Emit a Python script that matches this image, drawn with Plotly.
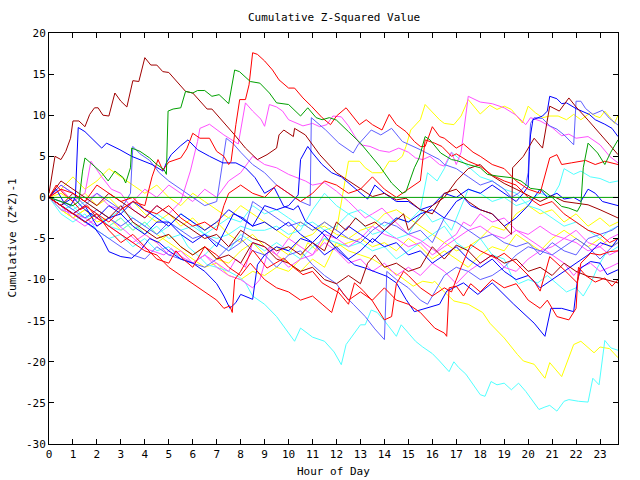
import plotly.graph_objects as go

# ---- tick labels ----
hours = list(range(24))
hour_labels = [str(h) for h in hours]
y_ticks = list(range(-30, 25, 5))

# ---- series: (hour, cumulative value) pairs ----
A = [(0,0.5),(0.25,5.0),(0.5,4.6),(0.7,5.6),(0.9,7.2),(1.0,9.3),(1.25,9.3),(1.5,8.6),(1.7,10.1),(1.9,10.9),(2.05,10.9),(2.25,10.0),(2.5,9.9),(2.75,12.7),(3.0,11.7),(3.25,11.0),(3.5,14.2),(3.75,14.1),(4.0,17.0),(4.25,16.1),(4.5,16.1),(4.75,15.3),(5.0,15.2),(5.4,13.9),(5.7,12.9),(6.0,12.7),(6.6,10.75),(6.8,10.75),(7.4,8.8),(7.75,7.6),(8.2,6.0),(8.7,4.6),(9.1,5.2),(9.5,6.0),(9.6,7.6),(9.8,8.2),(10.2,7.4),(10.25,8.4),(10.7,7.6),(10.95,6.6),(11.3,5.2),(12.0,3.0),(12.5,2.0),(13.0,1.0),(13.5,0.1),(14.0,0.5),(14.5,-0.3),(14.9,-0.1),(15.5,-1.5),(16.0,-2.0),(16.5,0.5),(17.0,1.0),(17.5,-0.5),(18.0,-1.5),(18.5,-2.0),(19.0,-3.5),(19.3,-4.5),(19.35,3.6),(19.8,5.0),(20.25,7.2),(20.6,6.0),(20.9,11.1),(21.3,10.5),(21.7,12.1),(22.0,11.0),(22.5,9.4),(23.0,7.8),(23.4,6.4),(23.75,5.2)]
B = [(0,0),(0.5,-1.0),(1.0,-2.0),(1.5,-1.0),(2.0,-2.0),(2.5,-3.0),(3.0,-1.5),(3.5,-0.5),(4.0,-1.0),(4.3,2.5),(4.55,4.6),(4.75,3.3),(5.0,4.3),(5.5,4.8),(5.75,5.9),(6.0,7.8),(6.3,7.2),(6.7,7.2),(7.0,5.6),(7.3,5.0),(7.5,4.0),(7.6,4.4),(7.8,8.85),(7.96,11.9),(8.2,11.9),(8.35,13.7),(8.5,17.6),(8.7,17.4),(9.0,16.6),(9.33,15.5),(9.6,14.3),(10.0,13.3),(10.25,13.3),(10.6,12.1),(10.95,11.1),(11.4,9.7),(11.75,8.85),(12.0,9.9),(12.4,10.9),(12.75,9.7),(12.96,8.85),(13.24,9.45),(13.5,8.85),(13.9,8.2),(14.2,10.1),(14.5,8.85),(14.9,8.0),(15.25,6.8),(15.5,6.2),(15.7,6.2),(16.0,8.6),(16.3,7.4),(16.5,7.2),(17.0,6.0),(17.3,6.5),(17.7,5.5),(18.0,5.0),(18.5,4.0),(19.0,3.5),(19.5,2.0),(20.0,1.0),(20.5,0.5),(20.9,4.8),(21.2,5.2),(21.4,4.0),(21.8,4.2),(22.4,4.5),(22.8,4.0),(23.2,4.4),(23.75,4.0)]
C = [(0,0),(0.5,-0.5),(1.0,-1.0),(1.25,-0.5),(1.4,3.2),(1.5,4.8),(1.9,3.8),(2.2,3.0),(2.47,2.0),(2.75,3.2),(3.1,2.4),(3.2,1.75),(3.4,3.6),(3.45,6.0),(3.8,5.6),(4.2,4.8),(4.5,4.0),(4.8,3.4),(4.9,2.8),(4.97,10.5),(5.18,10.75),(5.5,10.9),(5.7,12.9),(6.0,12.7),(6.2,13.0),(6.5,13.0),(6.8,12.3),(7.1,12.5),(7.5,11.4),(7.75,15.5),(7.95,15.3),(8.4,14.1),(8.8,13.9),(9.2,12.7),(9.5,11.5),(10.0,11.3),(10.5,9.9),(10.8,10.9),(11.15,9.7),(11.4,9.45),(11.7,9.7),(12.0,9.4),(12.5,8.0),(13.0,6.6),(13.4,5.2),(13.8,3.8),(14.3,1.75),(14.75,0.5),(14.9,0.7),(15.25,3.6),(15.45,4.8),(15.7,7.4),(15.9,7.0),(16.35,5.4),(16.8,4.6),(17.0,4.5),(17.5,4.0),(18.0,3.6),(18.3,2.8),(18.7,2.6),(19.3,2.4),(19.7,2.0),(20.1,1.1),(20.6,0.9),(21.0,0.0),(21.4,-1.1),(21.7,-1.3),(22.05,-1.7),(22.2,-0.9),(22.3,3.6),(22.5,6.6),(22.9,5.4),(23.2,4.0),(23.45,5.5),(23.75,7.0)]
D = [(0,0),(0.3,1.0),(0.6,-0.5),(0.9,-1.0),(1.1,0.0),(1.22,8.5),(1.5,8.0),(1.98,6.6),(2.2,6.0),(2.4,6.6),(2.96,5.8),(3.45,5.0),(4.0,4.4),(4.3,4.0),(4.76,3.2),(4.9,4.2),(5.1,5.2),(5.5,6.3),(5.8,7.0),(6.2,5.8),(6.7,5.0),(7.26,4.2),(7.8,4.2),(8.2,3.6),(8.6,2.4),(9.0,0.5),(9.4,1.2),(9.8,-1.1),(10.2,-1.5),(10.4,-1.0),(10.7,-2.9),(11.4,-4.3),(12.1,-6.6),(12.75,-8.2),(13.2,-8.6),(14.1,-9.6),(14.5,-10.4),(14.9,-12.4),(15.25,-13.9),(15.7,-13.5),(16.3,-13.0),(16.6,-11.4),(17.3,-10.4),(17.9,-11.8),(18.5,-10.4),(19.4,-13.0),(20.25,-15.3),(20.7,-16.9),(20.95,-13.5),(21.4,-13.5),(21.9,-13.9),(22.05,-10.2),(22.2,-8.6),(22.6,-7.8),(23.0,-8.0),(23.3,-9.4),(23.75,-8.8)]
E = [(0,0),(0.5,-1.0),(1.0,-2.0),(1.5,-1.0),(2.0,-3.5),(2.5,-2.5),(3.0,-2.0),(3.5,-3.5),(4.0,-4.5),(4.5,-3.0),(5.0,-3.0),(5.5,-4.5),(6.0,-5.5),(6.5,-4.5),(7.0,-6.0),(7.7,-2.0),(8.1,-2.5),(8.5,-3.5),(9.0,-1.0),(9.5,-1.5),(10.0,-1.0),(10.4,0.3),(10.5,4.6),(10.8,6.2),(11.0,5.4),(11.4,4.0),(11.8,3.0),(12.2,2.5),(12.6,1.5),(13.0,0.5),(13.3,-0.2),(13.6,1.5),(14.0,0.5),(14.5,-0.5),(15.0,-0.5),(15.5,-1.5),(16.0,-1.0),(16.5,0.5),(17.0,0.0),(17.5,1.0),(18.0,0.5),(18.5,1.5),(19.0,0.5),(19.5,-0.5),(19.8,0.5),(20.0,1.35),(20.05,5.6),(20.1,7.6),(20.2,9.45),(20.6,9.9),(20.8,10.5),(20.9,12.3),(21.2,12.0),(21.4,11.4),(21.6,11.5),(22.0,10.8),(22.55,10.1),(22.8,9.45),(23.2,8.9),(23.5,8.4),(23.75,7.4)]
M1 = [(0,0),(0.5,1.0),(1.0,-0.5),(1.5,0.5),(1.75,4.4),(2.2,2.5),(2.6,1.0),(3.0,0.5),(3.5,-1.5),(4.0,-2.5),(4.5,-1.0),(5.0,-2.0),(5.5,-0.5),(5.9,3.2),(6.2,6.8),(6.3,8.4),(6.7,8.9),(7.3,7.6),(7.9,6.5),(8.05,8.8),(8.2,11.5),(8.5,10.5),(8.85,9.5),(9.0,8.65),(9.2,11.3),(9.5,11.0),(9.75,10.5),(10.0,9.45),(10.4,8.9),(10.6,8.7),(11.0,9.0),(11.3,8.6),(11.6,8.85),(11.85,9.9),(12.2,9.8),(12.5,8.7),(12.75,7.5),(13.0,6.4),(13.4,6.2),(13.8,5.7),(14.2,5.5),(14.6,6.0),(15.0,5.5),(15.3,4.8),(15.6,4.6),(15.9,5.0),(16.3,4.0),(16.5,3.8),(16.8,5.5),(17.0,4.0),(17.2,5.5),(17.5,12.3),(18.0,11.6),(18.5,11.4),(19.0,10.9),(19.5,10.0),(19.9,8.85),(20.1,9.7),(20.5,9.3),(21.0,8.5),(21.4,7.5),(21.7,7.7),(22.0,7.2),(22.5,7.4),(23.0,6.4),(23.4,5.0),(23.75,4.2)]
Y1 = [(0,0),(0.5,-1.5),(1.0,-2.5),(1.5,-1.5),(2.0,-3.0),(2.5,-2.5),(3.0,-4.0),(3.5,-3.0),(4.0,-4.5),(4.5,-5.5),(5.0,-4.5),(5.5,-6.0),(6.0,-7.0),(6.5,-6.0),(7.0,-7.5),(7.5,-8.0),(8.0,-6.5),(8.5,-5.5),(9.0,-7.0),(9.5,-6.0),(10.0,-7.0),(10.5,-5.0),(11.0,-4.5),(11.5,-3.0),(12.0,-4.0),(12.3,1.0),(12.4,3.0),(12.5,4.4),(12.96,4.4),(13.2,3.6),(13.5,3.0),(13.9,3.0),(14.2,4.4),(14.5,4.4),(14.75,5.0),(14.9,6.2),(15.1,8.2),(15.25,8.65),(15.5,9.45),(15.7,11.3),(15.9,10.7),(16.3,9.45),(16.5,9.0),(16.9,8.85),(17.2,9.9),(17.5,11.9),(18.0,10.15),(18.4,11.2),(18.7,10.7),(19.0,11.1),(19.3,10.7),(19.76,9.05),(20.0,11.1),(20.3,10.3),(20.6,9.7),(20.9,9.9),(21.25,9.9),(21.6,9.45),(21.9,10.1),(22.2,9.45),(22.6,10.3),(22.8,9.9),(23.0,9.7),(23.2,10.5),(23.5,9.45),(23.6,9.0),(23.75,10.0)]
Y2 = [(0,0),(0.5,-1.5),(1.0,-2.5),(1.5,-1.5),(2.0,-2.5),(2.5,-3.5),(3.0,-2.5),(3.5,-4.0),(4.0,-3.0),(4.5,-4.5),(5.0,-5.5),(5.5,-6.5),(6.0,-7.5),(6.5,-8.5),(7.0,-8.0),(7.5,-9.5),(8.0,-10.0),(8.5,-9.0),(9.0,-9.5),(9.5,-8.5),(10.0,-9.0),(10.5,-7.5),(10.8,-5.5),(11.2,-6.5),(11.5,-5.0),(12.0,-6.0),(12.5,-5.5),(13.0,-5.0),(13.5,-6.0),(14.0,-5.5),(14.5,-6.5),(15.0,-5.0),(15.5,-6.0),(16.0,-7.5),(16.5,-6.5),(17.0,-7.5),(17.5,-8.5),(18.0,-7.0),(18.5,-6.0),(19.0,-6.5),(19.5,-4.5),(20.0,-5.5),(20.5,-6.5),(21.0,-5.0),(21.5,-4.0),(22.0,-5.0),(22.5,-6.0),(23.0,-5.0),(23.4,-6.0),(23.75,-5.5)]
Y3 = [(0,0),(0.5,0.5),(1.0,-0.5),(1.5,0.5),(2.0,-1.0),(2.5,0.0),(3.0,-1.5),(3.5,-0.5),(4.0,-2.0),(4.5,-3.0),(5.0,-2.0),(5.5,-3.5),(6.0,-2.5),(6.5,-4.0),(7.0,-3.0),(7.5,-4.5),(8.0,-5.5),(8.5,-4.5),(9.0,-6.0),(9.5,-7.0),(10.0,-8.0),(10.5,-9.0),(11.0,-7.5),(11.5,-8.5),(12.0,-5.5),(12.5,-6.5),(13.0,-7.0),(13.5,-7.5),(14.1,-8.6),(14.6,-9.5),(15.2,-10.8),(15.6,-10.2),(16.0,-10.4),(16.1,-10.2),(16.5,-11.5),(16.9,-12.6),(17.5,-13.0),(18.1,-14.0),(18.4,-15.3),(19.0,-17.1),(19.55,-19.1),(19.8,-19.9),(20.25,-20.3),(20.7,-22.0),(20.9,-20.1),(21.4,-21.8),(21.9,-17.9),(22.2,-17.5),(22.75,-18.9),(23.0,-18.2),(23.4,-18.4),(23.75,-19.5)]
Y4 = [(0,0),(0.5,1.0),(1.0,2.5),(1.5,1.0),(2.0,2.0),(2.5,3.5),(3.0,2.5),(3.5,1.5),(4.0,0.5),(4.5,1.5),(5.0,0.0),(5.5,-1.0),(6.0,0.5),(6.5,-0.5),(7.0,-1.5),(7.5,-2.5),(8.0,-1.0),(8.5,-2.0),(9.0,-3.0),(9.5,-4.0),(10.0,-5.0),(10.5,-3.0),(11.0,-4.0),(11.5,-3.5),(12.0,-4.5),(12.5,-5.0),(13.0,-4.0),(13.5,-3.5),(14.0,-2.0),(14.5,-1.5),(15.0,-2.5),(15.5,-3.5),(16.0,-4.5),(16.5,-5.5),(17.0,-6.5),(17.5,-6.0),(18.0,-5.0),(18.5,-3.5),(19.0,-4.0),(19.5,-2.0),(20.0,-1.0),(20.5,-2.0),(21.0,-1.5),(21.5,-3.0),(22.0,-2.0),(22.5,-3.5),(23.0,-2.5),(23.4,-3.5),(23.75,-3.0)]
C1 = [(0,0),(0.5,-1.5),(1.0,-2.0),(1.5,-3.0),(2.0,-2.0),(2.5,-3.5),(3.0,-4.0),(3.5,-3.0),(4.0,-4.5),(4.5,-3.5),(5.0,-5.0),(5.5,-4.5),(5.8,-6.0),(6.2,-7.0),(6.6,-8.2),(7.0,-8.5),(7.5,-9.0),(8.0,-9.8),(8.2,-10.4),(8.5,-12.0),(9.0,-13.0),(9.35,-14.1),(9.5,-14.5),(10.25,-17.5),(10.5,-15.9),(11.0,-17.0),(11.5,-17.5),(11.9,-18.8),(12.2,-20.35),(12.4,-17.9),(12.75,-16.5),(13.0,-15.5),(13.2,-15.5),(13.35,-14.5),(13.45,-13.7),(13.7,-14.0),(14.0,-15.0),(14.5,-16.9),(14.7,-15.5),(15.0,-16.5),(15.3,-17.5),(15.6,-18.2),(16.0,-19.0),(16.3,-19.9),(16.7,-21.2),(16.9,-20.0),(17.1,-20.7),(17.4,-21.5),(17.7,-22.8),(18.0,-24.0),(18.2,-24.2),(18.45,-22.4),(18.7,-22.8),(19.0,-22.6),(19.3,-23.4),(19.6,-22.6),(19.9,-23.6),(20.2,-24.8),(20.45,-25.8),(20.7,-25.5),(20.9,-25.3),(21.2,-26.0),(21.5,-24.8),(21.7,-24.6),(22.1,-24.8),(22.5,-24.9),(22.7,-22.0),(22.96,-22.8),(23.2,-17.4),(23.45,-18.3),(23.75,-18.6)]
CY2 = [(0,0),(0.5,-1.5),(1.0,-1.0),(1.5,-2.5),(2.0,-2.0),(2.5,-3.5),(3.0,-2.5),(3.5,-4.0),(4.0,-3.0),(4.5,-4.5),(5.0,-3.5),(5.5,-2.0),(6.0,-3.0),(6.5,-4.5),(7.0,-3.5),(7.5,-2.5),(8.0,-3.0),(8.5,-1.0),(9.0,-2.0),(9.5,-1.5),(10.0,-2.5),(10.5,-3.5),(11.0,-3.0),(11.5,-4.0),(12.0,-3.5),(12.5,-2.0),(13.0,-3.0),(13.5,-4.5),(14.0,-4.0),(14.5,-5.0),(15.0,-4.5),(15.3,-3.0),(15.6,-1.5),(16.0,-3.0),(16.4,-2.5),(16.8,-4.0),(17.2,-1.0),(17.5,1.0),(18.0,0.5),(18.5,-0.5),(19.0,0.0),(19.5,-1.0),(20.0,-0.5),(20.5,0.5),(21.0,0.0),(21.3,1.5),(21.5,3.5),(21.9,2.8),(22.2,3.2),(22.6,2.5),(23.0,2.3),(23.4,1.8),(23.75,2.0)]
CY3 = [(0,0),(0.5,-2.0),(1.0,-3.0),(1.5,-2.0),(2.0,-4.0),(2.5,-5.0),(3.0,-4.5),(3.5,-6.0),(4.0,-5.0),(4.5,-6.5),(5.0,-6.0),(5.5,-7.5),(6.0,-8.0),(6.5,-7.0),(7.0,-5.5),(7.5,-6.5),(8.0,-4.5),(8.5,-5.5),(9.0,-6.5),(9.5,-5.5),(10.0,-6.5),(10.5,-7.5),(11.0,-6.0),(11.5,-5.0),(12.0,-5.5),(12.5,-6.0),(13.0,-5.5),(13.5,-6.5),(14.0,-6.0),(14.5,-7.5),(15.0,-6.5),(15.5,-5.5),(16.0,-4.5),(16.5,-3.5),(17.0,-5.5),(17.5,-6.5),(18.0,-5.0),(18.5,-7.0),(19.0,-7.5),(19.3,-9.5),(19.6,-10.5),(20.0,-10.0),(20.4,-10.4),(20.8,-9.5),(21.2,-10.5),(21.6,-11.5),(22.0,-11.0),(22.3,-12.0),(22.6,-10.5),(22.9,-8.5),(23.2,-7.0),(23.5,-6.5),(23.75,-6.0)]
CY4 = [(0,0),(0.5,-0.5),(1.0,-1.5),(1.5,-0.5),(2.0,-1.5),(2.5,-2.5),(3.0,-1.5),(3.5,-2.5),(4.0,-3.5),(4.5,-2.0),(5.0,-3.0),(5.5,-4.0),(6.0,-3.5),(6.5,-4.5),(7.0,-5.0),(7.5,-4.5),(8.0,-3.5),(8.5,-4.0),(9.0,-4.0),(9.5,-3.5),(10.0,-4.5),(10.5,-4.0),(11.0,-1.5),(11.5,0.5),(12.0,-1.0),(12.5,-2.0),(13.0,-1.5),(13.5,-2.5),(14.0,-3.5),(14.5,-2.5),(15.0,-3.0),(15.5,-1.5),(15.8,3.0),(16.2,2.0),(16.5,3.5),(16.8,5.5),(17.2,4.5),(17.6,3.5),(18.0,2.5),(18.5,2.0),(19.0,1.0),(19.5,0.5),(20.0,-1.0),(20.5,-1.5),(21.0,-2.5),(21.5,-3.5),(22.0,-3.0),(22.5,-4.0),(23.0,-5.0),(23.4,-4.0),(23.75,-3.5)]
R2 = [(0,0),(0.3,1.5),(0.6,0.5),(1.0,-0.5),(1.3,-1.5),(1.6,-1.0),(2.0,-2.5),(2.5,-3.5),(3.0,-4.5),(3.5,-5.5),(4.0,-6.5),(4.5,-7.0),(5.0,-8.5),(5.5,-9.5),(6.0,-10.5),(6.5,-11.5),(7.0,-12.5),(7.3,-13.5),(7.55,-13.2),(7.65,-14.0),(7.75,-10.0),(8.0,-9.0),(8.5,-6.4),(9.1,-8.6),(9.8,-7.4),(10.2,-8.5),(10.6,-9.4),(11.0,-9.0),(11.4,-10.4),(12.1,-11.6),(12.5,-13.0),(12.75,-10.4),(13.1,-11.3),(13.5,-12.6),(13.8,-13.9),(14.0,-14.9),(14.3,-14.5),(14.35,-13.5),(14.5,-10.5),(14.8,-9.0),(15.0,-9.5),(15.5,-11.0),(16.0,-12.0),(16.5,-11.0),(16.8,-11.5),(17.2,-8.5),(17.6,-5.75),(18.0,-6.5),(18.65,-7.4),(19.0,-6.8),(19.5,-8.0),(20.25,-10.2),(20.5,-11.4),(20.9,-7.2),(21.5,-8.8),(22.05,-10.4),(22.2,-8.0),(22.6,-6.8),(23.0,-7.0),(23.4,-6.6),(23.75,-6.5)]
R3 = [(0,0),(0.5,-1.0),(1.0,-2.0),(1.5,-3.0),(2.0,-2.0),(2.5,-4.0),(3.0,-5.5),(3.5,-4.5),(4.0,-6.0),(4.5,-7.5),(5.0,-8.0),(5.3,-6.5),(5.6,-7.5),(6.0,-8.5),(6.5,-6.0),(7.0,-7.0),(7.5,-8.5),(8.0,-9.5),(8.4,-8.0),(9.0,-10.0),(9.5,-11.0),(10.0,-11.5),(10.5,-12.5),(11.0,-12.0),(11.4,-13.0),(11.8,-14.0),(12.1,-11.0),(12.5,-12.5),(13.0,-11.5),(13.5,-12.5),(14.0,-11.0),(14.5,-12.5),(15.0,-13.0),(15.5,-14.0),(16.1,-15.9),(16.5,-16.5),(16.6,-16.9),(16.7,-11.0),(17.0,-10.8),(17.3,-12.0),(17.6,-10.5),(18.0,-11.5),(18.5,-10.0),(19.0,-11.0),(19.5,-10.5),(20.0,-12.5),(20.5,-13.5),(20.8,-12.5),(21.0,-13.5),(21.2,-14.5),(21.7,-14.9),(22.0,-13.5),(22.1,-8.5),(22.4,-9.5),(22.8,-10.3),(23.2,-9.8),(23.5,-10.8),(23.75,-10.0)]
R4 = [(0,0),(0.5,1.0),(1.0,0.5),(1.5,-0.5),(2.0,1.5),(2.5,0.5),(3.0,-0.5),(3.5,0.0),(4.0,-1.5),(4.5,-2.0),(5.0,-1.0),(5.5,-2.5),(6.0,-3.5),(6.5,-3.0),(7.0,-4.0),(7.3,-1.0),(7.5,0.5),(8.0,1.5),(8.5,0.5),(9.0,0.0),(9.5,1.5),(10.0,0.5),(10.5,-0.5),(11.0,0.5),(11.5,2.0),(12.0,1.5),(12.5,0.5),(13.0,1.0),(13.5,2.5),(14.0,1.0),(14.5,0.0),(15.0,1.0),(15.5,2.0),(15.7,7.0),(16.1,6.6),(16.4,6.2),(16.8,5.0),(17.0,5.3),(17.5,4.4),(18.0,3.8),(18.5,2.7),(19.0,2.0),(19.5,1.5),(20.0,0.0),(20.5,-1.0),(21.0,-0.5),(21.5,-2.0),(22.0,-3.0),(22.5,-4.0),(23.0,-4.5),(23.4,-5.5),(23.75,-5.0)]
DR2 = [(0,0),(0.5,-1.0),(1.0,0.5),(1.5,-0.5),(2.0,-1.5),(2.5,-2.5),(3.0,-1.0),(3.5,-3.0),(4.0,-4.0),(4.5,-5.0),(5.0,-4.5),(5.5,-6.0),(6.0,-7.0),(6.5,-6.0),(7.0,-7.5),(7.5,-7.0),(8.0,-8.0),(8.5,-5.5),(9.0,-6.0),(9.5,-7.5),(10.0,-8.0),(10.5,-9.0),(11.0,-8.5),(11.5,-10.0),(12.0,-10.5),(12.5,-9.5),(13.0,-10.5),(13.3,-8.0),(13.6,-7.0),(14.0,-8.5),(14.5,-8.0),(15.0,-9.0),(15.5,-8.5),(16.0,-6.0),(16.5,-7.5),(17.0,-5.8),(17.5,-6.5),(18.0,-8.0),(18.5,-7.0),(19.0,-8.0),(19.5,-7.5),(20.0,-9.0),(20.5,-8.5),(21.0,-9.5),(21.5,-8.0),(22.0,-9.0),(22.5,-9.6),(23.0,-9.8),(23.5,-10.2),(23.75,-10.4)]
DR3 = [(0,0),(0.5,2.0),(1.0,1.0),(1.5,0.0),(2.0,-1.0),(2.5,0.5),(3.0,-0.5),(3.5,-1.5),(4.0,-2.5),(4.5,-1.0),(5.0,-2.0),(5.5,-3.0),(6.0,-4.0),(6.5,-5.0),(7.0,-4.5),(7.5,-6.0),(8.0,-4.0),(8.5,-5.0),(9.0,-5.5),(9.5,-6.5),(10.0,-6.0),(10.5,-7.0),(11.0,-5.5),(11.5,-6.5),(12.0,-3.0),(12.4,-4.0),(12.8,-2.5),(13.2,-3.5),(13.6,-3.0),(14.0,-4.0),(14.4,-3.0),(14.8,-2.0),(15.0,-4.0),(15.5,-2.5),(16.0,-1.0),(16.5,0.0),(17.0,2.0),(17.5,3.5),(18.0,4.0),(18.4,2.8),(19.0,1.7),(19.5,1.0),(20.0,0.2),(20.5,-0.5),(21.0,0.2),(21.5,-0.5),(22.0,-0.7),(22.5,-0.9),(23.0,-1.5),(23.4,-2.0),(23.75,-2.5)]
B2 = [(0,0),(0.5,-1.0),(1.0,0.0),(1.5,-1.5),(2.0,-2.5),(2.5,-1.0),(3.0,-2.0),(3.5,-0.5),(4.0,-1.5),(4.5,-2.5),(5.0,-3.5),(5.5,-2.0),(6.0,-3.0),(6.5,-4.0),(7.0,-3.0),(7.5,-1.5),(8.0,-2.5),(8.5,-3.5),(9.0,-3.0),(9.5,-4.0),(10.0,-3.0),(10.5,-4.5),(11.0,-5.5),(11.5,-4.0),(12.0,-5.0),(12.5,-3.5),(13.0,-4.5),(13.5,-5.5),(14.0,-4.0),(14.5,-2.5),(15.0,-3.0),(15.5,-2.0),(16.0,-1.5),(16.5,-2.5),(17.0,-0.5),(17.3,0.0),(17.6,-1.0),(18.0,-1.5),(18.5,-2.0),(19.0,-3.5),(19.5,-2.5),(20.0,-1.0),(20.5,1.0),(20.8,0.0),(21.2,0.5),(21.5,-0.2),(21.9,0.0),(22.2,-0.5),(22.5,1.0),(22.8,0.5),(23.1,-0.5),(23.5,-0.8),(23.75,-1.0)]
B3 = [(0,0),(0.5,-1.0),(1.0,-2.0),(1.5,-3.0),(1.9,-3.7),(2.2,-4.9),(2.5,-6.6),(3.0,-7.2),(3.45,-7.4),(3.8,-6.5),(4.2,-5.0),(4.6,-5.5),(5.0,-6.5),(5.5,-7.5),(6.0,-8.0),(6.5,-9.0),(7.0,-10.5),(7.3,-12.0),(7.55,-13.5),(7.8,-12.8),(8.0,-11.8),(8.5,-12.4),(8.7,-8.2),(9.0,-7.0),(9.5,-6.0),(10.0,-6.5),(10.5,-5.0),(11.0,-5.5),(11.5,-7.0),(12.0,-6.0),(12.5,-7.5),(13.0,-6.5),(13.5,-5.0),(14.0,-6.0),(14.5,-5.5),(15.0,-7.0),(15.5,-6.5),(16.0,-8.0),(16.5,-7.0),(17.0,-6.0),(17.5,-7.5),(18.0,-8.5),(18.5,-7.5),(19.0,-9.0),(19.5,-10.0),(20.0,-9.5),(20.5,-11.0),(21.0,-10.0),(21.5,-9.0),(22.0,-8.0),(22.5,-7.0),(23.0,-5.5),(23.5,-6.0),(23.75,-5.0)]
MG2 = [(0,0),(0.5,-1.0),(1.0,-2.5),(1.5,-3.5),(2.0,-2.5),(2.5,-3.5),(3.0,-4.5),(3.5,-5.5),(4.0,-4.5),(4.5,-5.5),(5.0,-7.0),(5.5,-6.5),(6.0,-8.0),(6.5,-7.0),(7.0,-8.0),(7.5,-9.0),(7.8,-7.5),(8.2,-8.5),(8.5,-5.5),(9.0,-6.0),(9.5,-7.0),(10.0,-8.5),(10.5,-7.5),(11.0,-7.0),(11.5,-4.5),(12.0,-5.0),(12.5,-6.0),(13.0,-5.0),(13.5,-3.5),(14.0,-4.5),(14.5,-5.0),(15.0,-6.0),(15.5,-5.5),(16.0,-7.0),(16.5,-6.0),(17.0,-5.0),(17.5,-4.0),(18.0,-3.5),(18.5,-4.5),(19.0,-5.0),(19.5,-4.0),(20.0,-5.0),(20.5,-6.0),(21.0,-7.0),(21.5,-8.0),(21.9,-9.5),(22.2,-8.5),(22.6,-8.0),(23.0,-9.0),(23.4,-8.5),(23.75,-8.0)]
MG3 = [(0,0),(0.5,1.5),(1.0,0.5),(1.5,-0.5),(2.0,0.5),(2.5,-1.0),(3.0,-1.5),(3.5,-0.5),(4.0,1.0),(4.5,0.0),(5.0,1.5),(5.5,0.5),(6.0,-0.5),(6.5,1.0),(7.0,0.0),(7.5,2.0),(8.0,3.0),(8.5,5.0),(9.0,4.0),(9.5,3.6),(10.0,2.8),(10.7,2.0),(11.0,1.5),(11.5,1.8),(12.0,0.75),(12.5,-0.5),(13.2,-2.5),(13.5,-2.0),(13.9,-1.3),(14.4,-2.8),(15.0,-4.5),(15.5,-5.2),(16.15,-6.6),(16.5,-5.5),(17.0,-4.5),(17.3,-3.0),(17.6,-3.5),(18.0,-2.0),(18.5,-3.0),(19.0,-2.5),(19.5,-4.0),(20.0,-4.5),(20.5,-3.5),(21.0,-4.5),(21.5,-5.0),(22.0,-4.0),(22.5,-5.5),(23.0,-6.0),(23.4,-5.0),(23.75,-4.5)]
MG4 = [(0,0),(0.5,-1.5),(1.0,-2.0),(1.5,-2.5),(2.0,-3.5),(2.5,-2.5),(3.2,-4.1),(4.0,-6.2),(4.8,-7.0),(5.1,-6.2),(5.4,-7.0),(6.0,-8.0),(6.5,-7.0),(7.0,-8.5),(7.5,-9.5),(8.0,-10.0),(8.5,-11.0),(8.8,-10.0),(9.2,-6.0),(9.5,-7.0),(10.0,-5.0),(10.5,-6.0),(11.0,-7.0),(11.5,-5.5),(12.0,-6.5),(12.5,-8.0),(13.0,-7.5),(13.5,-9.0),(14.0,-8.0),(14.5,-9.5),(15.0,-8.5),(15.5,-9.5),(16.0,-8.0),(16.5,-9.0),(17.0,-10.5),(17.5,-9.0),(18.0,-8.0),(18.5,-7.0),(19.0,-8.5),(19.5,-9.0),(20.0,-7.5),(20.5,-6.5),(21.0,-6.0),(21.5,-5.0),(22.0,-5.5),(22.5,-6.5),(23.0,-6.0),(23.4,-7.0),(23.75,-6.5)]
LB2 = [(0,0),(0.5,-1.0),(1.0,-2.0),(1.5,-3.0),(2.0,-4.0),(2.5,-5.0),(3.0,-6.0),(3.5,-7.0),(4.0,-7.5),(4.5,-6.0),(5.0,-7.0),(5.5,-7.5),(6.0,-8.0),(6.5,-8.5),(7.0,-7.5),(7.5,-6.0),(8.0,-5.0),(8.5,-6.5),(9.0,-7.0),(9.5,-8.5),(10.0,-7.0),(10.5,-6.5),(11.0,-8.2),(11.5,-9.5),(12.0,-10.5),(12.3,-11.8),(12.7,-13.0),(13.2,-14.5),(13.6,-16.0),(14.0,-17.3),(14.1,-9.0),(14.5,-10.0),(15.0,-11.0),(15.5,-12.5),(15.8,-13.0),(16.2,-11.0),(16.5,-9.5),(17.0,-8.5),(17.5,-9.0),(18.0,-10.0),(18.5,-9.5),(19.0,-8.5),(19.5,-7.0),(20.0,-6.0),(20.5,-6.5),(21.0,-7.0),(21.5,-6.0),(22.0,-5.0),(22.5,-6.0),(23.0,-7.5),(23.5,-6.0),(23.75,-5.5)]
LB3 = [(0,0),(0.5,1.5),(1.0,0.5),(1.5,-1.0),(2.0,0.5),(2.5,-0.5),(3.0,-1.5),(3.4,0.5),(3.5,6.2),(3.8,5.3),(4.2,4.5),(4.6,3.0),(5.0,2.0),(5.5,1.0),(6.0,0.0),(6.5,-1.0),(7.0,-0.5),(7.3,5.0),(7.4,7.2),(7.7,6.5),(8.0,5.5),(8.5,4.0),(9.0,3.0),(9.5,1.5),(10.0,0.5),(10.5,-0.5),(10.9,-1.0),(10.95,9.7),(11.55,8.2),(12.1,6.6),(12.7,5.4),(12.9,6.4),(13.45,8.2),(13.85,7.6),(14.3,8.4),(14.75,6.8),(15.5,5.8),(16.3,4.6),(16.5,4.0),(17.0,3.5),(17.5,2.5),(18.0,1.5),(18.5,2.0),(19.0,1.0),(19.3,0.0),(19.6,0.5),(19.9,1.5),(20.0,3.0),(20.1,9.0),(20.25,9.7),(20.6,9.6),(20.9,8.7),(21.2,8.3),(21.5,7.6),(21.9,6.4),(22.0,11.7),(22.2,11.7),(22.4,10.8),(22.7,10.1),(22.9,10.4),(23.1,10.6),(23.4,9.6),(23.75,8.8)]
LB4 = [(0,0),(0.5,-0.5),(1.0,-1.5),(1.5,-2.5),(2.0,-1.5),(2.5,-2.5),(3.0,-3.5),(3.5,-2.5),(4.0,-3.5),(4.5,-4.5),(5.0,-3.0),(5.5,-4.0),(6.0,-5.0),(6.5,-4.5),(7.0,-5.5),(7.5,-6.5),(8.0,-5.5),(8.5,-0.5),(9.0,-1.5),(9.5,-2.5),(10.0,-3.5),(10.5,-3.0),(11.0,-4.0),(11.5,-3.0),(12.0,-4.0),(12.5,-5.0),(13.0,-5.5),(13.5,-4.0),(14.0,-3.0),(14.5,-3.5),(15.0,-4.5),(15.5,-4.0),(16.0,-5.5),(16.5,-2.5),(17.0,-3.0),(17.5,-4.0),(18.0,-5.0),(18.5,-4.5),(19.0,-5.5),(19.5,-6.0),(20.0,-5.5),(20.5,-7.0),(21.0,-5.5),(21.5,-6.5),(22.0,-7.0),(22.5,-5.0),(23.0,-4.5),(23.5,-4.0),(23.75,-3.5)]
ZERO = [(0, 0), (23.75, 0)]

RED = "#ff0000"
DARKRED = "#a00000"
GREEN = "#00a000"
BLUE = "#0000ff"
SLATE = "#6060ff"
MAGENTA = "#ff50ff"
CYAN = "#50ffff"
YELLOW = "#ffff00"

series = [
    (Y2, YELLOW), (Y3, YELLOW), (Y4, YELLOW), (Y1, YELLOW),
    (C1, CYAN), (CY2, CYAN), (CY3, CYAN), (CY4, CYAN),
    (MG2, MAGENTA), (MG3, MAGENTA), (MG4, MAGENTA), (M1, MAGENTA),
    (LB2, SLATE), (LB3, SLATE), (LB4, SLATE),
    (B2, BLUE), (B3, BLUE), (D, BLUE), (E, BLUE),
    (DR2, DARKRED), (DR3, DARKRED), (A, DARKRED),
    (R2, RED), (R3, RED), (R4, RED), (B, RED),
    (C, GREEN), (ZERO, GREEN),
]

fig = go.Figure()
for pts, col in series:
    fig.add_trace(go.Scatter(
        x=[p[0] for p in pts], y=[p[1] for p in pts],
        mode="lines", line=dict(color=col, width=1), hoverinfo="skip"))

L, R, T, Bm = 49, 22, 33, 36
W, H = 640, 480
pw, ph = W - L - R, H - T - Bm

axis_common = dict(showgrid=False, zeroline=False, showline=True, linecolor="black",
                   linewidth=1, mirror="allticks", ticks="inside", ticklen=5,
                   tickcolor="black", tickwidth=1,
                   tickfont=dict(family="DejaVu Sans Mono", size=11, color="black"))

fig.update_layout(
    width=W, height=H, margin=dict(l=L, r=R, t=T, b=Bm),
    paper_bgcolor="white", plot_bgcolor="white", showlegend=False,
    font=dict(family="DejaVu Sans Mono", size=11, color="black"),
    xaxis=dict(range=[0, 23.75], tickmode="array", tickvals=hours, ticktext=hour_labels, **axis_common),
    yaxis=dict(range=[-30, 20], tickmode="array", tickvals=y_ticks, ticktext=[str(v) for v in y_ticks], **axis_common),
    annotations=[
        dict(text="Cumulative Z-Squared Value", xref="paper", yref="paper", x=0.5,
             y=1 + (T - 17) / ph, xanchor="center", yanchor="middle", showarrow=False),
        dict(text="Hour of Day", xref="paper", yref="paper", x=0.5,
             y=-(471 - (H - Bm)) / ph, xanchor="center", yanchor="middle", showarrow=False),
        dict(text="Cumulative (Z*Z)-1", xref="paper", yref="paper", x=-(L - 12) / pw,
             y=0.5, xanchor="center", yanchor="middle", textangle=-90, showarrow=False),
    ],
)

fig.write_html("out.html")
